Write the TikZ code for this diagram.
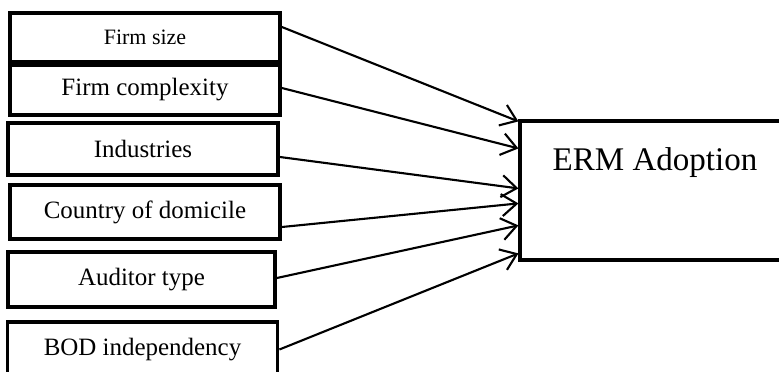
\documentclass[tikz,border=0pt]{standalone}
\usepackage{fontspec}
\setmainfont{Liberation Serif}
\usetikzlibrary{arrows.meta}

\begin{document}
\begin{tikzpicture}[x=0.02cm,y=-0.02cm,
    fbox/.style={draw,line width=2.2pt,minimum width=5.4cm,align=center,
                 font=\fontsize{14.2}{16}\selectfont},
    arr/.style={-{Straight Barb[length=3mm,width=4.4mm]},line width=1.2pt}]
    \clip (0,0) rectangle (779,372);
    \node[fbox,minimum height=0.98cm,font=\fontsize{12.5}{14}\selectfont] (f1) at (145,37.5) {Firm size};
    \node[fbox,minimum height=1.0cm]  (f2) at (145,90)    {Firm complexity};
    \node[fbox,minimum height=1.04cm] (f3) at (143,149)   {Industries};
    \node[fbox,minimum height=1.08cm] (f4) at (145,212)   {Country of domicile};
    \node[fbox,minimum height=1.1cm,minimum width=5.34cm] (f5) at (141.5,279.5) {Auditor type};
    \node[fbox,minimum height=1.1cm]  (f6) at (142.5,349.5) {BOD independency};
    \node[draw,line width=1.8pt,minimum width=5.4cm,minimum height=2.78cm,
          text height=0.5cm,text depth=1.32cm,font=\fontsize{18.8}{22}\selectfont]
      (erm) at (655,190.5) {ERM Adoption};
    \draw[arr]([yshift=0.21cm]f1.east)--([yshift=-0.04cm]erm.north west);
    \draw[arr]([yshift=0.04cm]f2.east)--([yshift=-0.58cm]erm.north west);
    \draw[arr]([yshift=-0.16cm]f3.east)--([yshift=-1.38cm]erm.north west);
    \draw[arr]([yshift=-0.3cm]f4.east)--([yshift=-1.68cm]erm.north west);
    \draw[arr]([yshift=0.03cm]f5.east)--([yshift=-2.12cm]erm.north west);
    \draw[arr](f6.east)--([yshift=-2.68cm]erm.north west);
  \end{tikzpicture}
\end{document}
